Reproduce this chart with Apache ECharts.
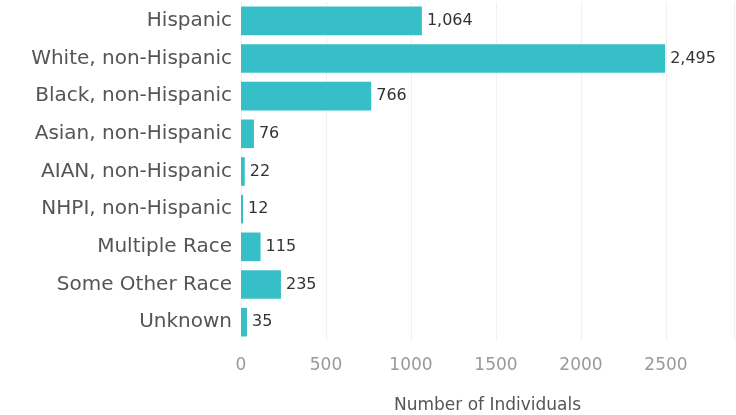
<!DOCTYPE html>
<html><head><meta charset="utf-8">
<script src="https://cdn.jsdelivr.net/npm/echarts@6/dist/echarts.min.js"></script>
<style>html,body{margin:0;padding:0;background:#fff}#c{width:736px;height:415px}</style>
</head><body><div id="c"></div>
<script>
const categories = ["Hispanic","White, non-Hispanic","Black, non-Hispanic","Asian, non-Hispanic","AIAN, non-Hispanic","NHPI, non-Hispanic","Multiple Race","Some Other Race","Unknown"];
const values = [1064,2495,766,76,22,12,115,235,35];
const axisTitle = "Number of Individuals";

const F = 'DejaVu Sans';
const chart = echarts.init(document.getElementById('c'), null, {renderer:'canvas'});
chart.setOption({
  animation:false,
  textStyle:{fontFamily:F},
  grid:{left:241,right:2,top:2,bottom:74,containLabel:false,outerBoundsMode:'none'},
  xAxis:{
    type:'value', min:0, max:2900, interval:500,
    name:axisTitle, nameLocation:'middle', nameGap:56,
    nameTextStyle:{fontFamily:F,fontSize:17,color:'#555',verticalAlign:'top'},
    axisLine:{show:false}, axisTick:{show:false},
    axisLabel:{fontFamily:F,fontSize:17,color:'#999',margin:16,
      formatter:v=> v>2500?'':String(v)},
    splitLine:{show:true,lineStyle:{color:'#f0f0f0',width:1}}
  },
  yAxis:{
    type:'category', data:categories, inverse:true,
    axisLine:{show:false}, axisTick:{show:false},
    axisLabel:{fontFamily:F,fontSize:20,color:'#555',margin:9},
    splitLine:{show:false}
  },
  series:[{
    type:'bar', data:values, barWidth:'76%',
    itemStyle:{color:'#37bfc7'},
    label:{show:true,position:'right',distance:5,fontFamily:F,fontSize:16,color:'#333',
      formatter:p=>p.value.toLocaleString('en-US')},
    markLine:{silent:true,symbol:'none',label:{show:false},
      lineStyle:{color:'#f0f0f0',type:'solid',width:1},
      data:[[{coord:[0,8.5]},{coord:[2900,8.5]}]]}
  }]
});
</script></body></html>
